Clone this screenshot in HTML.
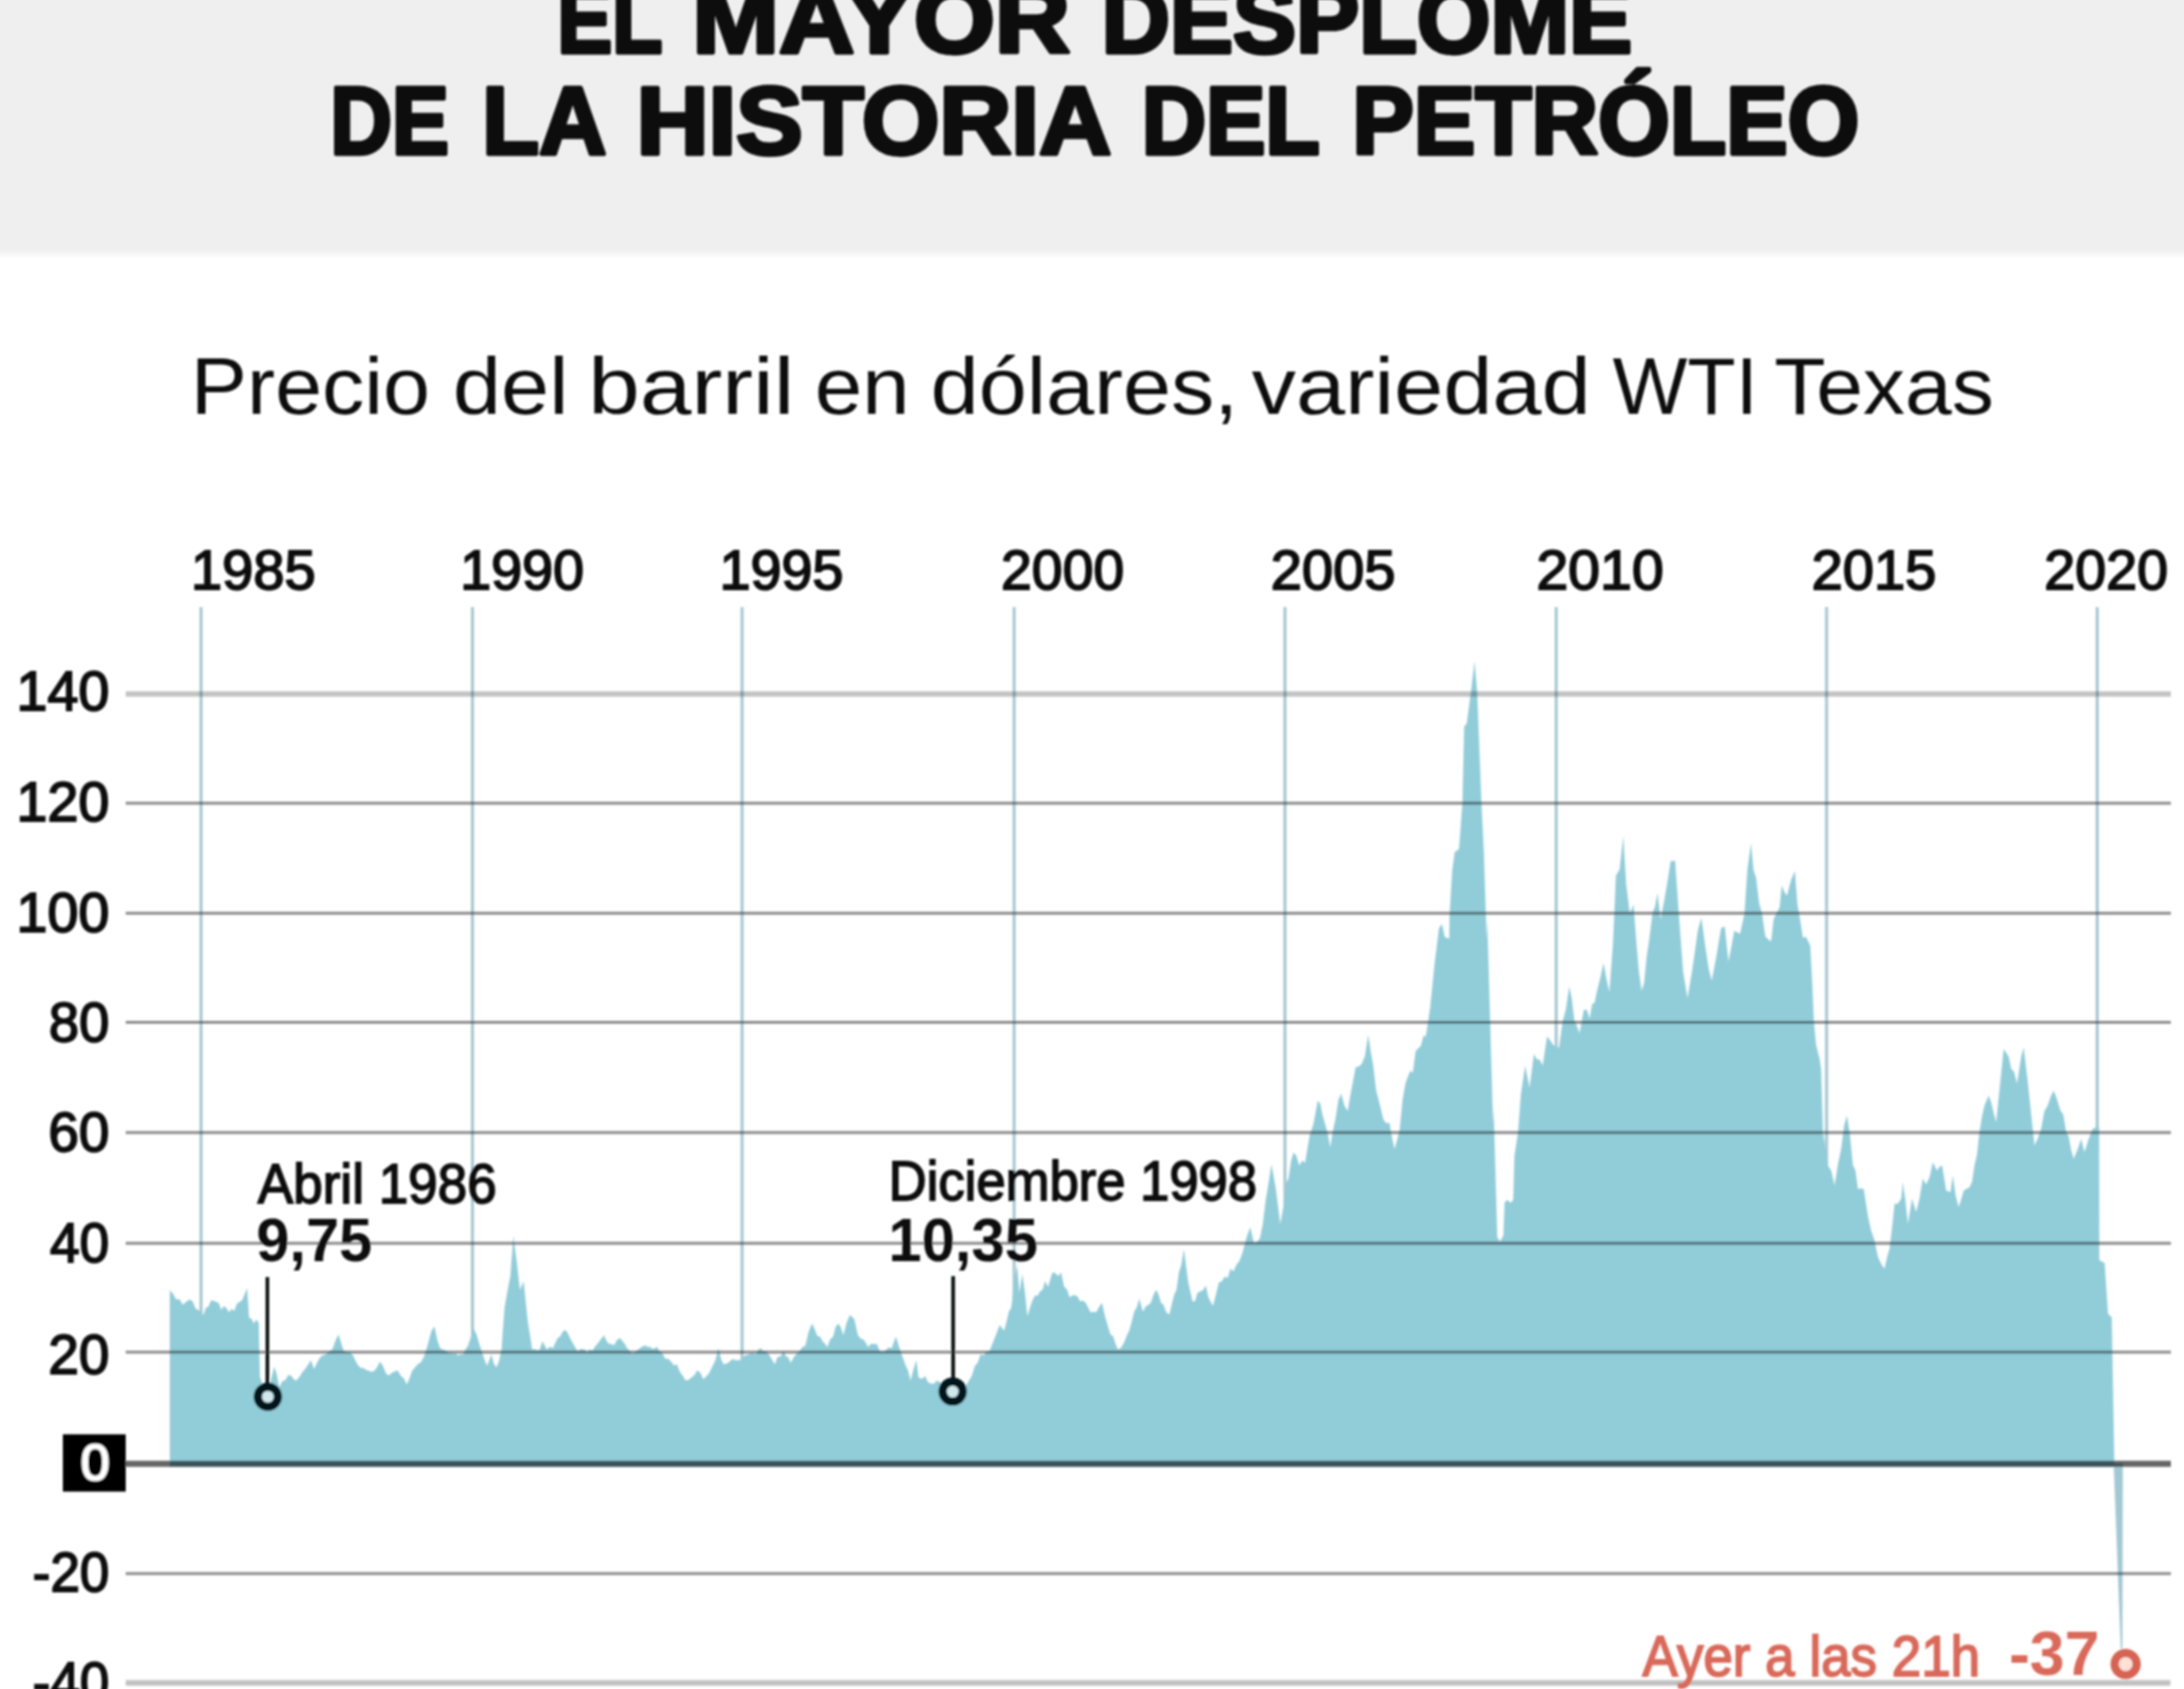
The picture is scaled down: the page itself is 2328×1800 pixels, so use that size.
<!DOCTYPE html>
<html><head><meta charset="utf-8"><title>El mayor desplome de la historia del petróleo</title>
<style>html,body{margin:0;padding:0;background:#fff}body{width:2328px;height:1800px;overflow:hidden}svg{display:block}text{font-family:"Liberation Sans",sans-serif}</style></head><body>
<svg width="2328" height="1800" viewBox="0 0 2328 1800">
<defs><linearGradient id="hg" x1="0" y1="0" x2="0" y2="1"><stop offset="0" stop-color="#efefef"/><stop offset="1" stop-color="#ffffff"/></linearGradient>
<filter id="soft" x="-2%" y="-2%" width="104%" height="104%"><feGaussianBlur stdDeviation="0.9"/></filter></defs>
<rect x="0" y="0" width="2328" height="1800" fill="#ffffff"/>
<rect x="0" y="0" width="2328" height="267" fill="#efefef"/>
<rect x="0" y="266" width="2328" height="10" fill="url(#hg)"/>
<g filter="url(#soft)">
<g font-weight="bold" font-size="102" fill="#0a0a0a" stroke="#0a0a0a" stroke-width="4.6" stroke-linejoin="round">
<text x="594.0" y="56.4" font-size="102" font-weight="bold" textLength="112.2" lengthAdjust="spacingAndGlyphs">EL</text>
<text x="738.0" y="56.4" font-size="102" font-weight="bold" textLength="402.6" lengthAdjust="spacingAndGlyphs">MAYOR</text>
<text x="1174.3" y="56.4" font-size="102" font-weight="bold" textLength="565.5" lengthAdjust="spacingAndGlyphs">DESPLOME</text>
<text x="351.9" y="164.2" font-size="102" font-weight="bold" textLength="126.6" lengthAdjust="spacingAndGlyphs">DE</text>
<text x="514.1" y="164.2" font-size="102" font-weight="bold" textLength="132.3" lengthAdjust="spacingAndGlyphs">LA</text>
<text x="678.5" y="164.2" font-size="102" font-weight="bold" textLength="505.9" lengthAdjust="spacingAndGlyphs">HISTORIA</text>
<text x="1216.9" y="164.2" font-size="102" font-weight="bold" textLength="190.0" lengthAdjust="spacingAndGlyphs">DEL</text>
<text x="1441.6" y="164.2" font-size="102" font-weight="bold" textLength="540.2" lengthAdjust="spacingAndGlyphs">PETRÓLEO</text>
</g>
<g fill="#111">
<text x="203.2" y="441.2" font-size="86" textLength="255.2" lengthAdjust="spacingAndGlyphs">Precio</text>
<text x="482.8" y="441.2" font-size="86" textLength="123.1" lengthAdjust="spacingAndGlyphs">del</text>
<text x="626.9" y="441.2" font-size="86" textLength="219.8" lengthAdjust="spacingAndGlyphs">barril</text>
<text x="868.4" y="441.2" font-size="86" textLength="101.3" lengthAdjust="spacingAndGlyphs">en</text>
<text x="991.9" y="441.2" font-size="86" textLength="328.0" lengthAdjust="spacingAndGlyphs">dólares,</text>
<text x="1334.3" y="441.2" font-size="86" textLength="361.2" lengthAdjust="spacingAndGlyphs">variedad</text>
<text x="1718.9" y="441.2" font-size="86" textLength="154.7" lengthAdjust="spacingAndGlyphs">WTI</text>
<text x="1891.2" y="441.2" font-size="86" textLength="234.0" lengthAdjust="spacingAndGlyphs">Texas</text>
</g>
<g stroke="#a6c6d0" stroke-width="3.2">
<line x1="214.3" y1="647" x2="214.3" y2="1559.5"/>
<line x1="503.6" y1="647" x2="503.6" y2="1559.5"/>
<line x1="791" y1="647" x2="791" y2="1559.5"/>
<line x1="1081" y1="647" x2="1081" y2="1559.5"/>
<line x1="1369.7" y1="647" x2="1369.7" y2="1559.5"/>
<line x1="1658.8" y1="647" x2="1658.8" y2="1559.5"/>
<line x1="1947" y1="647" x2="1947" y2="1559.5"/>
<line x1="2235.5" y1="647" x2="2235.5" y2="1559.5"/>
</g>
<path d="M181,1563.2 L181.0,1375.3 L184.4,1378.7 L187.9,1384.9 L191.3,1384.4 L194.7,1390.4 L198.1,1387.7 L201.6,1384.9 L205.1,1386.4 L208.5,1394.6 L211.2,1396.0 L214.0,1397.8 L216.7,1401.4 L219.4,1393.8 L222.2,1392.6 L224.9,1386.0 L227.7,1386.3 L230.4,1387.6 L233.2,1388.7 L235.9,1395.9 L238.7,1391.7 L241.4,1394.3 L244.2,1398.5 L246.9,1394.8 L249.7,1397.3 L252.4,1389.4 L255.2,1387.4 L257.9,1386.1 L260.7,1379.4 L263.4,1372.6 L265.5,1404.2 L268.1,1405.5 L270.6,1410.4 L273.2,1406.2 L275.8,1409.7 L277.1,1467.4 L279.9,1475.4 L282.6,1480.5 L285.4,1488.0 L288.9,1470.1 L292.3,1456.4 L295.0,1464.6 L297.7,1478.4 L300.9,1472.1 L304.2,1470.7 L307.4,1465.3 L310.1,1466.0 L312.9,1469.4 L315.6,1471.5 L318.8,1468.1 L322.0,1462.8 L325.2,1459.1 L328.3,1454.4 L331.4,1449.5 L334.8,1459.1 L337.6,1452.9 L340.3,1448.1 L343.1,1444.8 L345.8,1444.0 L348.6,1442.2 L351.3,1439.9 L354.1,1438.5 L357.5,1428.9 L360.9,1422.0 L363.6,1431.0 L366.4,1439.9 L369.6,1441.0 L372.8,1441.3 L376.0,1444.0 L378.8,1449.9 L381.5,1454.7 L384.3,1457.7 L387.4,1457.9 L390.5,1459.9 L393.5,1461.0 L396.6,1461.9 L399.4,1460.4 L402.1,1456.7 L404.9,1450.9 L408.1,1455.5 L411.3,1463.5 L414.5,1466.0 L417.7,1463.0 L420.9,1461.5 L424.1,1460.5 L427.3,1466.6 L430.5,1469.1 L433.7,1475.6 L436.5,1469.1 L439.2,1461.0 L442.0,1457.7 L445.2,1454.1 L448.4,1452.0 L451.6,1446.8 L455.1,1436.1 L458.5,1423.4 L460.0,1418.3 L463.1,1413.6 L466.2,1428.2 L469.3,1437.0 L472.5,1438.4 L475.6,1440.1 L478.2,1441.8 L480.8,1442.1 L483.4,1442.5 L485.9,1442.2 L488.5,1444.8 L491.1,1443.2 L493.7,1443.6 L496.3,1438.1 L498.9,1433.9 L501.6,1426.0 L504.4,1415.2 L507.9,1422.1 L511.4,1433.9 L514.0,1441.6 L516.6,1449.4 L519.2,1455.7 L523.8,1443.2 L526.5,1453.5 L529.3,1457.2 L532.0,1450.2 L534.7,1437.0 L537.8,1393.4 L541.0,1375.6 L544.1,1359.2 L547.2,1317.1 L551.1,1346.7 L554.2,1374.7 L558.1,1365.4 L562.7,1409.0 L567.4,1438.6 L570.0,1437.6 L572.6,1439.3 L575.2,1438.6 L578.3,1429.2 L583.0,1438.6 L586.1,1435.0 L589.2,1437.0 L591.8,1431.6 L594.4,1426.1 L597.0,1424.5 L599.6,1419.5 L602.2,1417.2 L604.8,1419.9 L607.9,1426.4 L611.0,1432.3 L615.7,1440.1 L618.3,1437.9 L620.9,1437.8 L623.5,1438.6 L626.0,1441.9 L628.6,1438.1 L631.2,1440.1 L633.8,1435.5 L636.4,1432.8 L639.0,1429.2 L643.7,1423.0 L646.3,1428.6 L648.9,1432.2 L651.5,1432.3 L654.6,1433.7 L657.7,1427.9 L660.8,1426.1 L663.4,1429.1 L666.0,1432.2 L668.6,1437.0 L671.7,1440.1 L674.8,1442.6 L677.9,1440.1 L680.4,1438.2 L682.9,1435.9 L685.4,1434.8 L687.9,1433.8 L690.4,1435.4 L692.9,1435.3 L695.4,1437.5 L697.9,1436.8 L700.4,1435.6 L702.9,1440.1 L706.0,1442.2 L709.1,1447.9 L712.2,1448.1 L715.3,1450.9 L718.4,1455.2 L721.5,1454.1 L724.6,1461.8 L727.8,1466.3 L730.9,1471.2 L734.0,1470.5 L737.1,1468.1 L740.2,1465.5 L743.3,1460.3 L746.5,1463.0 L749.6,1469.7 L752.7,1467.0 L755.8,1463.4 L758.9,1457.2 L762.4,1450.1 L765.9,1437.0 L768.6,1448.4 L771.4,1454.1 L774.5,1453.3 L777.6,1451.3 L780.7,1448.2 L783.8,1449.5 L786.9,1449.4 L790.0,1449.5 L792.6,1445.8 L795.2,1443.9 L797.8,1443.4 L800.4,1442.2 L803.0,1442.2 L805.6,1443.2 L808.2,1438.7 L810.8,1436.8 L813.4,1440.1 L816.5,1440.0 L819.6,1443.4 L822.7,1448.5 L825.8,1454.1 L828.9,1445.9 L832.0,1445.8 L835.1,1440.1 L837.7,1445.3 L840.3,1446.7 L842.9,1452.6 L846.0,1446.4 L849.2,1442.6 L852.3,1440.1 L855.4,1435.6 L858.5,1433.9 L862.0,1419.1 L865.5,1410.5 L868.4,1416.5 L871.2,1423.7 L874.1,1424.5 L876.7,1429.3 L879.3,1432.1 L881.9,1435.4 L885.0,1427.3 L888.1,1424.5 L890.8,1413.8 L893.5,1410.5 L896.2,1414.4 L899.0,1423.0 L902.5,1409.6 L906.0,1401.2 L910.7,1405.9 L914.5,1423.0 L917.6,1426.7 L920.8,1427.7 L925.4,1435.4 L928.5,1432.1 L931.7,1432.3 L934.8,1432.6 L937.9,1440.1 L941.0,1440.9 L944.1,1439.3 L947.2,1435.8 L950.3,1437.0 L955.0,1424.5 L958.9,1437.0 L962.8,1447.9 L965.4,1455.2 L968.0,1460.7 L970.6,1471.2 L973.7,1459.5 L976.8,1449.5 L979.1,1468.1 L982.7,1469.6 L986.2,1466.6 L989.3,1473.2 L992.4,1474.4 L995.5,1474.8 L998.6,1471.2 L1001.2,1472.6 L1003.8,1474.2 L1006.4,1475.1 L1009.0,1479.7 L1011.6,1481.3 L1014.2,1482.9 L1016.9,1482.7 L1019.5,1479.2 L1022.2,1476.4 L1024.9,1477.3 L1027.6,1477.4 L1030.2,1475.7 L1032.9,1471.2 L1036.0,1466.1 L1039.1,1455.7 L1042.2,1452.3 L1045.3,1443.2 L1048.4,1444.6 L1051.6,1440.3 L1054.7,1440.1 L1057.8,1432.1 L1060.9,1424.5 L1065.6,1412.1 L1070.2,1418.3 L1072.8,1408.9 L1075.4,1397.8 L1078.0,1393.4 L1081.1,1365.5 L1084.2,1348.3 L1086.6,1377.8 L1089.7,1357.6 L1092.4,1376.5 L1095.1,1402.7 L1100.0,1387.1 L1103.1,1380.7 L1106.2,1380.8 L1108.8,1376.1 L1111.4,1374.5 L1114.0,1365.3 L1117.1,1371.5 L1121.8,1355.9 L1124.9,1356.8 L1128.0,1360.1 L1131.1,1355.9 L1134.2,1370.9 L1137.4,1374.6 L1140.2,1382.8 L1143.0,1380.5 L1145.8,1380.2 L1148.6,1381.7 L1151.4,1387.1 L1154.2,1385.9 L1157.0,1387.9 L1159.8,1393.3 L1162.6,1398.7 L1165.4,1397.9 L1168.5,1398.4 L1171.6,1392.8 L1174.7,1388.6 L1177.8,1402.6 L1181.0,1413.5 L1183.7,1422.3 L1186.5,1424.1 L1189.2,1432.6 L1191.9,1438.4 L1195.0,1436.0 L1198.1,1430.9 L1201.2,1422.9 L1203.8,1417.8 L1206.5,1408.1 L1209.1,1397.4 L1211.8,1393.2 L1214.4,1383.9 L1218.3,1397.9 L1221.1,1392.5 L1223.9,1390.7 L1226.7,1388.4 L1229.5,1380.0 L1232.3,1374.6 L1234.9,1379.3 L1237.5,1388.4 L1240.1,1390.2 L1243.2,1398.5 L1246.3,1401.1 L1248.9,1390.7 L1251.5,1379.9 L1254.1,1374.6 L1256.7,1355.8 L1259.3,1347.8 L1261.9,1331.0 L1266.6,1366.8 L1271.2,1387.1 L1273.8,1386.7 L1276.4,1378.1 L1279.0,1376.2 L1282.2,1375.2 L1285.3,1369.9 L1287.9,1381.9 L1290.4,1387.3 L1293.0,1391.7 L1296.2,1379.0 L1299.3,1366.8 L1302.4,1365.6 L1305.5,1360.6 L1308.6,1362.1 L1311.7,1352.0 L1314.8,1355.1 L1317.9,1348.1 L1321.1,1344.1 L1324.2,1335.7 L1328.8,1318.6 L1332.7,1307.7 L1336.6,1324.8 L1339.8,1323.5 L1342.9,1320.1 L1346.0,1304.9 L1349.1,1279.6 L1352.2,1261.1 L1355.3,1240.7 L1360.0,1267.2 L1364.7,1304.5 L1367.8,1287.3 L1370.9,1261.0 L1373.5,1255.7 L1376.1,1237.5 L1378.7,1228.3 L1381.8,1231.5 L1384.9,1242.3 L1388.0,1236.8 L1391.1,1239.2 L1395.8,1211.1 L1400.0,1197.9 L1404.7,1173.0 L1407.3,1176.2 L1409.9,1189.0 L1412.5,1197.9 L1415.2,1206.9 L1417.9,1222.9 L1420.7,1205.8 L1423.4,1193.3 L1426.5,1173.1 L1429.6,1165.3 L1433.1,1178.5 L1436.6,1183.9 L1439.4,1167.5 L1442.3,1151.8 L1445.1,1137.2 L1448.2,1136.7 L1451.4,1134.1 L1454.9,1125.6 L1458.4,1103.0 L1461.1,1120.5 L1463.8,1135.7 L1466.9,1162.0 L1470.1,1174.6 L1474.7,1193.3 L1477.8,1197.3 L1481.0,1196.4 L1483.7,1211.7 L1486.4,1224.4 L1489.2,1215.1 L1491.9,1204.2 L1495.0,1172.6 L1498.1,1154.4 L1500.7,1147.5 L1503.3,1141.0 L1505.9,1143.5 L1509.0,1120.1 L1512.1,1117.0 L1514.7,1114.3 L1517.3,1103.7 L1519.9,1104.5 L1524.5,1073.4 L1529.2,1026.7 L1533.9,989.3 L1537.0,984.7 L1540.1,998.7 L1544.8,1000.2 L1545.1,976.2 L1547.9,928.5 L1550.6,908.3 L1555.2,904.7 L1558.9,855.1 L1560.7,774.4 L1563.5,770.7 L1568.1,735.9 L1571.7,704.7 L1574.5,735.9 L1576.3,781.7 L1579.1,855.1 L1581.8,910.2 L1584.6,999.9 L1585.3,980.0 L1588.4,1089.0 L1591.5,1197.9 L1592.1,1180.0 L1596.0,1318.1 L1598.6,1323.3 L1602.5,1316.8 L1603.8,1281.6 L1606.9,1278.7 L1609.9,1281.7 L1613.0,1279.0 L1614.3,1232.1 L1618.2,1206.1 L1621.1,1166.8 L1625.7,1135.7 L1630.4,1159.0 L1635.1,1123.2 L1638.2,1128.9 L1641.3,1129.3 L1644.4,1135.7 L1649.1,1104.5 L1652.3,1108.5 L1655.6,1113.5 L1658.7,1115.8 L1661.8,1116.6 L1665.7,1088.6 L1669.2,1075.3 L1672.7,1051.2 L1675.4,1063.9 L1678.1,1087.1 L1680.8,1093.3 L1683.6,1101.1 L1688.3,1076.2 L1691.4,1076.1 L1694.5,1085.5 L1697.1,1070.0 L1699.7,1068.7 L1702.3,1055.9 L1705.8,1042.3 L1709.3,1026.3 L1712.4,1043.5 L1715.5,1057.5 L1719.4,1004.5 L1722.5,932.9 L1726.4,926.7 L1730.3,890.9 L1733.4,942.3 L1737.3,973.4 L1741.2,964.1 L1744.3,1004.5 L1747.0,1035.8 L1749.8,1055.9 L1752.5,1047.8 L1755.2,1020.1 L1758.3,999.0 L1761.4,973.4 L1764.2,965.7 L1766.9,951.6 L1770.0,979.6 L1773.5,962.2 L1777.0,942.3 L1780.9,917.4 L1785.6,917.4 L1789.5,973.4 L1794.1,1035.7 L1798.8,1063.7 L1803.5,1035.7 L1806.6,1014.6 L1809.7,992.1 L1813.6,978.1 L1818.3,1012.3 L1821.4,1032.6 L1824.5,1045.0 L1827.2,1031.5 L1829.9,1017.0 L1834.6,989.0 L1838.5,987.4 L1842.4,1024.8 L1845.5,1009.3 L1848.6,992.1 L1851.7,993.5 L1854.8,995.2 L1859.5,973.4 L1862.6,926.7 L1866.5,898.7 L1869.2,927.4 L1872.0,936.0 L1875.1,962.6 L1878.2,973.4 L1881.7,997.9 L1885.2,1001.4 L1887.9,1003.3 L1890.6,979.6 L1893.8,972.8 L1896.9,967.2 L1899.2,943.8 L1902.0,950.3 L1904.7,954.7 L1909.3,937.6 L1913.2,928.3 L1916.0,964.0 L1918.7,979.6 L1921.8,999.5 L1924.9,998.3 L1929.6,1007.7 L1931.9,1051.2 L1933.5,1088.6 L1935.8,1113.5 L1939.7,1129.1 L1941.2,1140.0 L1943.1,1206.6 L1945.8,1223.3 L1948.4,1242.1 L1952.0,1247.8 L1955.5,1263.4 L1959.0,1241.4 L1962.6,1224.3 L1965.7,1199.8 L1968.8,1188.8 L1971.9,1209.6 L1975.1,1242.1 L1977.8,1247.3 L1980.4,1266.9 L1983.5,1266.4 L1986.6,1266.9 L1991.0,1295.4 L1994.5,1311.5 L1998.1,1322.0 L2001.7,1339.2 L2005.2,1346.9 L2008.8,1352.2 L2011.4,1340.0 L2014.1,1330.9 L2016.8,1308.6 L2019.5,1282.9 L2023.0,1282.7 L2026.6,1277.6 L2028.3,1259.8 L2031.0,1278.8 L2033.7,1304.2 L2038.1,1277.6 L2042.5,1291.8 L2046.0,1277.4 L2049.6,1256.3 L2053.2,1262.2 L2056.8,1254.5 L2060.3,1238.5 L2064.7,1247.4 L2067.4,1243.6 L2070.1,1242.1 L2074.5,1268.7 L2079.0,1270.5 L2081.6,1252.7 L2084.7,1274.5 L2087.8,1286.5 L2090.5,1278.2 L2093.2,1268.7 L2096.3,1267.0 L2099.4,1265.2 L2102.1,1259.6 L2104.7,1242.1 L2107.3,1230.8 L2110.0,1206.6 L2112.7,1189.8 L2115.4,1178.1 L2119.8,1167.5 L2122.5,1175.1 L2125.1,1186.0 L2127.8,1195.9 L2132.2,1153.3 L2135.8,1117.8 L2138.5,1122.1 L2141.1,1126.1 L2143.8,1139.1 L2146.9,1142.2 L2150.0,1155.1 L2154.4,1126.6 L2157.1,1116.0 L2161.5,1153.3 L2166.0,1195.9 L2168.6,1220.8 L2172.1,1213.2 L2175.7,1203.0 L2179.2,1184.2 L2182.8,1178.1 L2185.9,1168.7 L2189.1,1162.2 L2192.6,1171.5 L2196.2,1183.5 L2199.3,1187.8 L2202.4,1206.6 L2205.1,1211.3 L2207.7,1225.5 L2210.4,1235.0 L2214.8,1224.3 L2218.4,1213.7 L2221.9,1227.9 L2226.4,1213.7 L2230.8,1203.0 L2234.4,1201.2 L2237.5,1201 L2237.7,1343 L2243.4,1346 L2247,1400 L2251,1404 L2253.8,1563.2 Z" fill="#91ccd9"/>
<path d="M2253,1559.5 L2262.8,1559.5 L2262.3,1757 L2260.6,1757 Z" fill="#a3c8d4"/>
<g style="mix-blend-mode:multiply">
<line x1="134" y1="739.6" x2="2314" y2="739.6" stroke="#c3c3c3" stroke-width="5.6"/>
<g stroke="#8a8a8a" stroke-width="2.9">
<line x1="134" y1="856" x2="2314" y2="856"/>
<line x1="134" y1="973.3" x2="2314" y2="973.3"/>
<line x1="134" y1="1089.5" x2="2314" y2="1089.5"/>
<line x1="134" y1="1207" x2="2314" y2="1207"/>
<line x1="134" y1="1325" x2="2314" y2="1325"/>
<line x1="134" y1="1441" x2="2314" y2="1441"/>
<line x1="134" y1="1677" x2="2314" y2="1677"/>
</g>
<line x1="134" y1="1793.5" x2="2313.5" y2="1793.5" stroke="#c1c1c1" stroke-width="6"/>
<line x1="133" y1="1560" x2="2314" y2="1560" stroke="#666" stroke-width="6.4"/>
</g>
<rect x="67" y="1528.6" width="67" height="61" fill="#000"/>
<text x="86.1" y="1577.4" font-size="54.5" textLength="30.9" lengthAdjust="spacingAndGlyphs" fill="#fff" stroke="#fff" stroke-width="1.8">0</text>
<g fill="#0d0d0d" stroke="#0d0d0d" stroke-width="1.9">
<text x="203.4" y="628.0" font-size="59" textLength="133.1" lengthAdjust="spacingAndGlyphs">1985</text>
<text x="490.4" y="628.0" font-size="59" textLength="132.3" lengthAdjust="spacingAndGlyphs">1990</text>
<text x="766.9" y="628.0" font-size="59" textLength="132.2" lengthAdjust="spacingAndGlyphs">1995</text>
<text x="1067.0" y="628.0" font-size="59" textLength="131.3" lengthAdjust="spacingAndGlyphs">2000</text>
<text x="1354.5" y="628.0" font-size="59" textLength="133.1" lengthAdjust="spacingAndGlyphs">2005</text>
<text x="1637.7" y="628.0" font-size="59" textLength="135.7" lengthAdjust="spacingAndGlyphs">2010</text>
<text x="1931.0" y="628.0" font-size="59" textLength="133.1" lengthAdjust="spacingAndGlyphs">2015</text>
<text x="2179.0" y="628.0" font-size="59" textLength="132.0" lengthAdjust="spacingAndGlyphs">2020</text>
</g>
<g fill="#0d0d0d" stroke="#0d0d0d" stroke-width="1.9">
<text x="17.4" y="756.8" font-size="60" textLength="99.2" lengthAdjust="spacingAndGlyphs">140</text>
<text x="17.4" y="875.1999999999999" font-size="60" textLength="99.2" lengthAdjust="spacingAndGlyphs">120</text>
<text x="17.4" y="993.1999999999999" font-size="60" textLength="99.2" lengthAdjust="spacingAndGlyphs">100</text>
<text x="52.0" y="1110.4" font-size="60" textLength="64.6" lengthAdjust="spacingAndGlyphs">80</text>
<text x="51.5" y="1226.6000000000001" font-size="60" textLength="65.1" lengthAdjust="spacingAndGlyphs">60</text>
<text x="53.2" y="1344.6000000000001" font-size="60" textLength="63.3" lengthAdjust="spacingAndGlyphs">40</text>
<text x="51.5" y="1463.6000000000001" font-size="60" textLength="65.1" lengthAdjust="spacingAndGlyphs">20</text>
<text x="34.8" y="1695.9" font-size="60" textLength="81.8" lengthAdjust="spacingAndGlyphs">-20</text>
<text x="34.8" y="1813.4" font-size="60" textLength="81.8" lengthAdjust="spacingAndGlyphs">-40</text>
</g>
<g fill="#111">
<text x="274.8" y="1282.0" font-size="60" textLength="254.7" lengthAdjust="spacingAndGlyphs" stroke="#111" stroke-width="1.8">Abril 1986</text>
<text x="273.3" y="1344" font-size="64" font-weight="bold" textLength="123.4" lengthAdjust="spacingAndGlyphs">9,75</text>
<text x="947.3" y="1279.4" font-size="60" textLength="392.7" lengthAdjust="spacingAndGlyphs" stroke="#111" stroke-width="1.8">Diciembre 1998</text>
<text x="947.1" y="1344.4" font-size="64" font-weight="bold" textLength="159.2" lengthAdjust="spacingAndGlyphs">10,35</text>
</g>
<line x1="285" y1="1361" x2="285" y2="1478" stroke="#0b1418" stroke-width="4"/>
<circle cx="285.5" cy="1488.5" r="10.7" fill="#cfe8ee" stroke="#04141b" stroke-width="8.8"/>
<line x1="1016" y1="1360" x2="1016" y2="1473" stroke="#0b1418" stroke-width="4"/>
<circle cx="1015.5" cy="1483" r="10.7" fill="#cfe8ee" stroke="#04141b" stroke-width="8.8"/>
<g fill="#d9695a">
<text x="1750.8" y="1786.4" font-size="61.5" textLength="359.9" lengthAdjust="spacingAndGlyphs" stroke="#d9695a" stroke-width="1.9">Ayer a las 21h</text>
<text x="2141.4" y="1785" font-size="66" font-weight="bold" textLength="96.5" lengthAdjust="spacingAndGlyphs">-37</text>
</g>
<circle cx="2265.8" cy="1773.4" r="11.8" fill="#fde0d6" stroke="#d66353" stroke-width="8.6"/>
</g>
</svg></body></html>
